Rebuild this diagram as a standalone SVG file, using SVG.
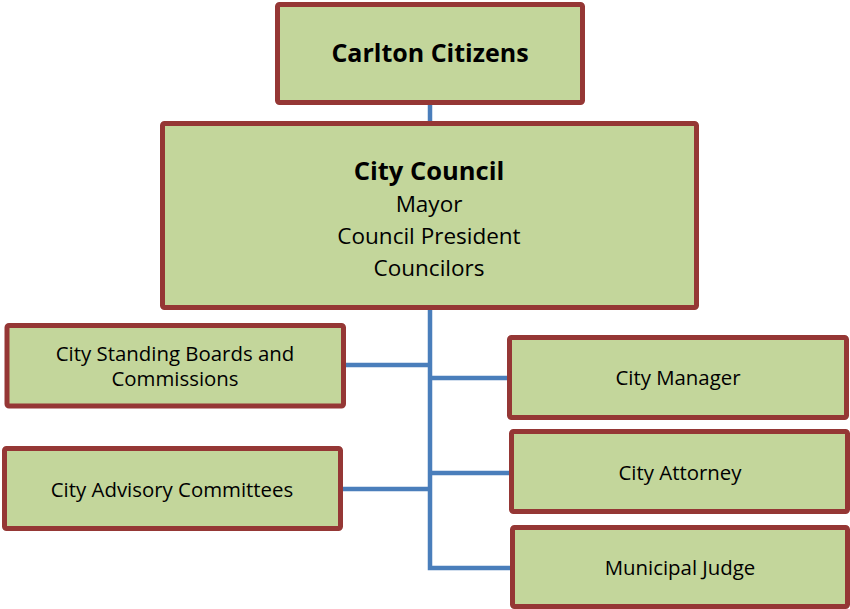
<svg xmlns="http://www.w3.org/2000/svg" width="850" height="609" viewBox="0 0 850 609">
<style>
.box{fill:#C3D69B;stroke:#953735;stroke-width:5}
.t{font-family:"Open Sans","Noto Sans",sans-serif;fill:#000;text-anchor:middle}
.b{font-weight:bold}
.s{font-size:20.4px}
.conn{fill:none;stroke:#4A7EBB;stroke-width:4.5}
</style>
<rect width="850" height="609" fill="#fff"/>
<g id="connectors">
<path class="conn" d="M430 105V122"/>
<path class="conn" d="M430 310V568H511"/>
<path class="conn" d="M346 365H430"/>
<path class="conn" d="M343 489H430"/>
<path class="conn" d="M430 378H508"/>
<path class="conn" d="M430 473H510"/>
</g>
<g id="carlton">
<rect class="box" x="277.5" y="4.5" width="305" height="98" rx="2"/>
<text class="t b" x="430" y="62" font-size="25">Carlton Citizens</text>
</g>
<g id="council">
<rect class="box" x="162.5" y="123.5" width="534" height="184" rx="2"/>
<text class="t b" x="429" y="180" font-size="25.5">City Council</text>
<text class="t" x="429" y="212" font-size="22.5">Mayor</text>
<text class="t" x="429" y="244" font-size="22.5">Council President</text>
<text class="t" x="429" y="276" font-size="22.5">Councilors</text>
</g>
<g id="standing">
<rect class="box" x="7" y="325.5" width="336.5" height="80.5" rx="2"/>
<text class="t s" x="175" y="361">City Standing Boards and</text>
<text class="t s" x="175" y="386">Commissions</text>
</g>
<g id="advisory">
<rect class="box" x="4.5" y="448.5" width="336" height="80" rx="2"/>
<text class="t s" x="172" y="497">City Advisory Committees</text>
</g>
<g id="manager">
<rect class="box" x="509.5" y="337.5" width="337" height="80" rx="2"/>
<text class="t s" x="678" y="385">City Manager</text>
</g>
<g id="attorney">
<rect class="box" x="511.5" y="431.5" width="336" height="80" rx="2"/>
<text class="t s" x="680" y="480">City Attorney</text>
</g>
<g id="judge">
<rect class="box" x="512.5" y="527.5" width="335" height="79" rx="2"/>
<text class="t s" x="680" y="575">Municipal Judge</text>
</g>
</svg>
